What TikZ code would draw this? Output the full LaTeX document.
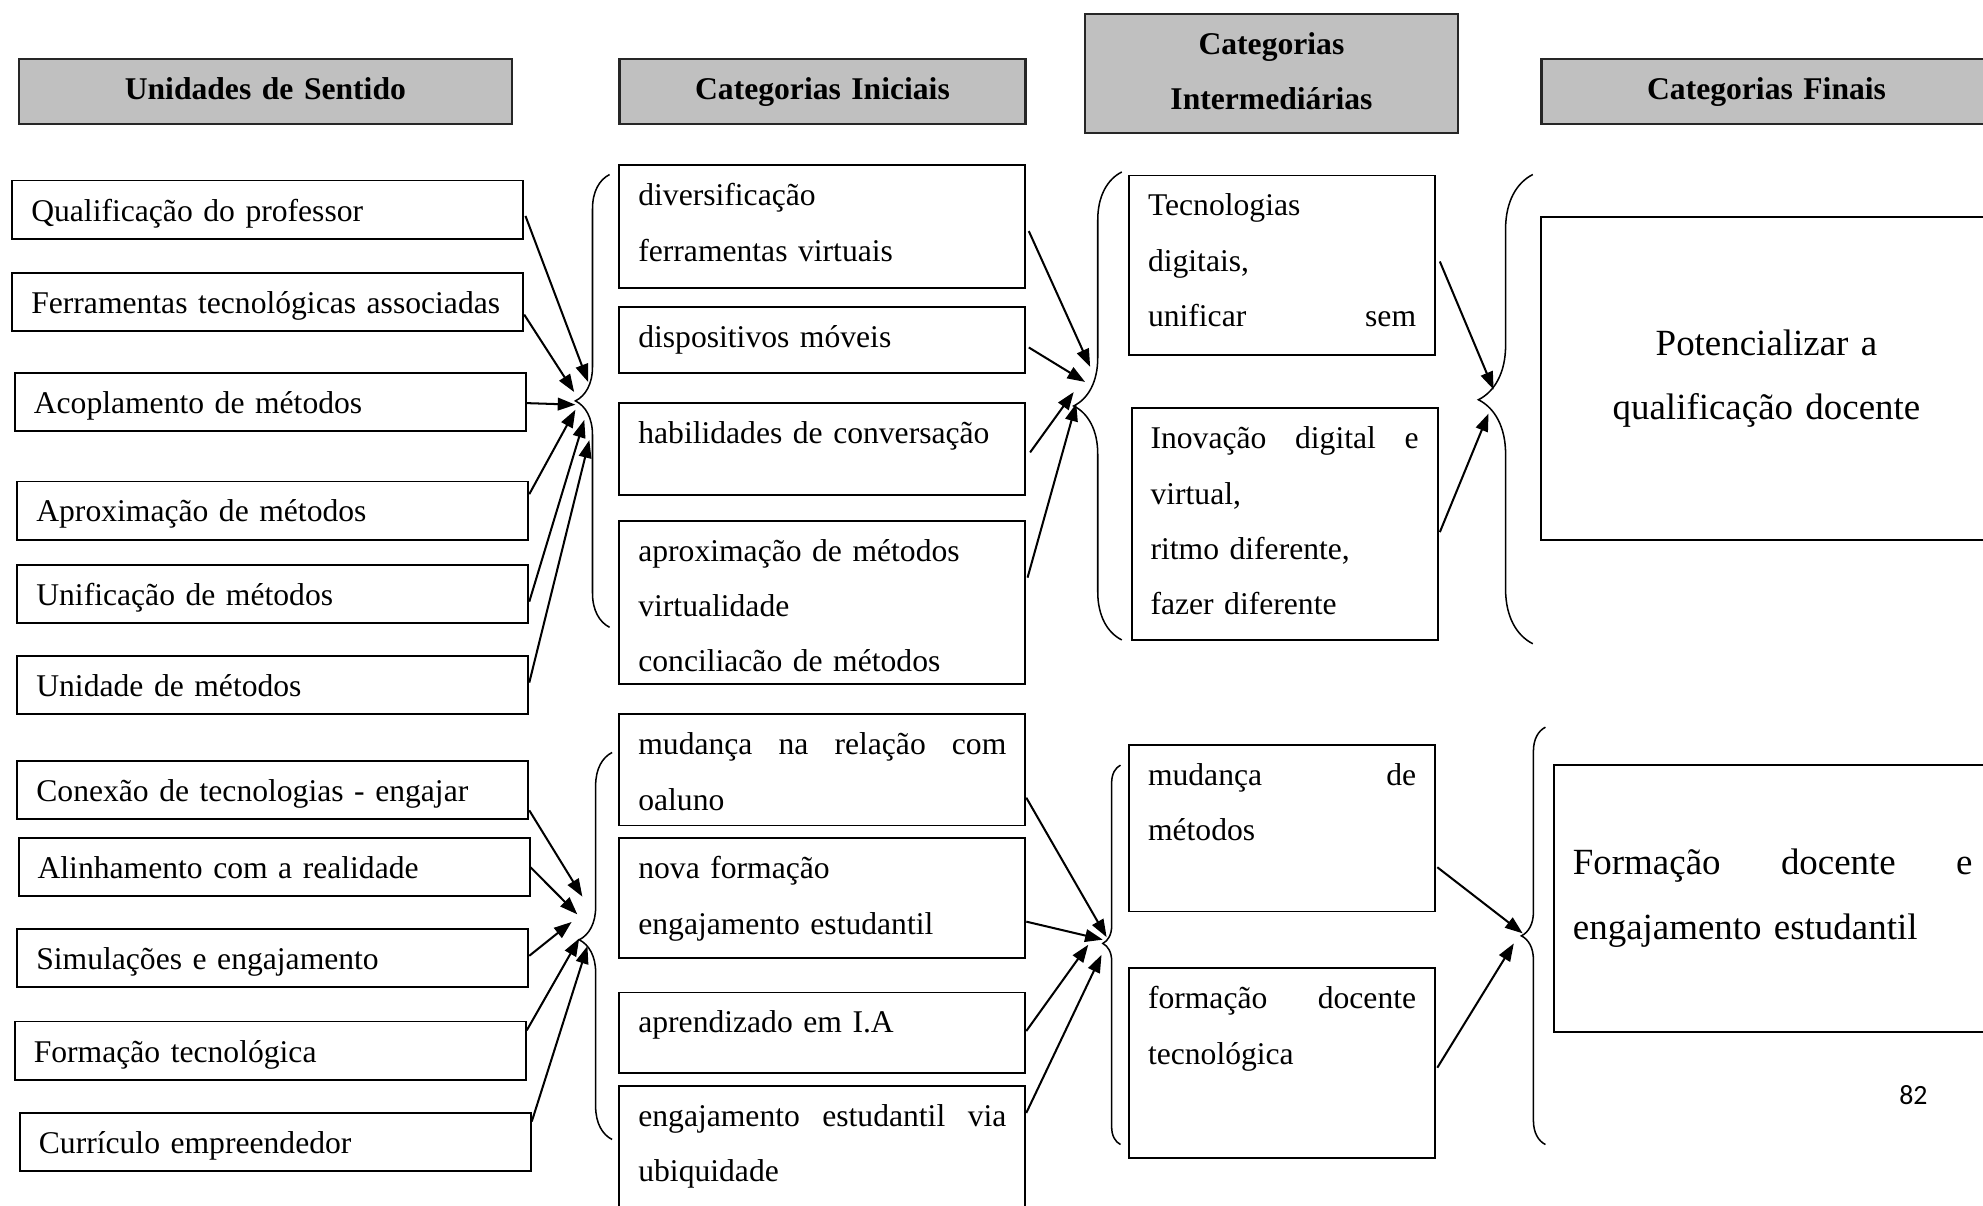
\documentclass[tikz,border=0pt]{standalone}
\usepackage{fontspec}
\setmainfont{Liberation Serif}
\newfontfamily\pagefont{Carlito}
\usepackage{tikz}
\usetikzlibrary{arrows.meta}
\usetikzlibrary{decorations.pathreplacing}

\definecolor{headgray}{RGB}{192,192,192}
\newcommand{\bodytxt}{\fontsize{25pt}{43.8pt}\selectfont}
\newcommand{\finaltxt}{\fontsize{29.2pt}{51pt}\selectfont}

\tikzset{
  cell/.style={draw, line width=1.5pt, anchor=north west, inner xsep=15pt,
    inner ysep=0pt, text height=32pt, align=left, font=\bodytxt},
  head/.style={cell, draw=black!85, line width=1.7pt, fill=headgray, align=center,
    font=\bodytxt\bfseries},
  unid/.style={cell, text width=374pt, text depth=14pt},
  ini/.style={cell, text width=291pt, text depth=#1},
  inter/.style={cell, text width=212pt, text depth=#1},
  conn/.style={line width=1.6pt, -{Triangle[length=14pt,width=10pt]}},
  chave/.style 2 args={line width=1.2pt, decorate,
    decoration={brace, amplitude=#1, aspect=#2}}
}

\begin{document}
\begin{tikzpicture}[x=1pt, y=-1pt]
\useasboundingbox (0,0) rectangle (1568,953);

\node[head, text width=360pt, text depth=19pt] (hd1) at (14,46) {Unidades de Sentido};
\node[head, text width=291pt, text depth=19pt] (hd2) at (489,46) {Categorias Iniciais};
\node[head, text width=265pt, text depth=62pt] (hd3) at (857,10) {Categorias\\Intermediárias};
\node[head, text width=326pt, text depth=19pt] (hd4) at (1218,46) {Categorias Finais};

\node[unid] (un1) at (9,142) {Qualificação do professor};
\node[unid] (un2) at (9,215) {Ferramentas tecnológicas associadas};
\node[unid] (un3) at (11,294) {Acoplamento de métodos};
\node[unid] (un4) at (13,380) {Aproximação de métodos};
\node[unid] (un5) at (13,446) {Unificação de métodos};
\node[unid] (un6) at (13,518) {Unidade de métodos};
\node[unid] (un7) at (13,601) {Conexão de tecnologias - engajar};
\node[unid] (un8) at (14,662) {Alinhamento com a realidade};
\node[unid] (un9) at (13,734) {Simulações e engajamento};
\node[unid] (un10) at (11,807) {Formação tecnológica};
\node[unid] (un11) at (15,879) {Currículo empreendedor};

\node[ini=65pt] (ini1) at (489,130) {diversificação\\ferramentas virtuais};
\node[ini=20pt] (ini2) at (489,242) {dispositivos móveis};
\node[ini=41pt] (ini3) at (489,318) {habilidades de conversação};
\node[ini=97pt] (ini4) at (489,411) {aproximação de métodos\\virtualidade\\conciliacão de métodos};
\node[ini=56pt] (ini5) at (489,564) {mudança\hfill na\hfill relação\hfill com\\oaluno};
\node[ini=63pt] (ini6) at (489,662) {nova formação\\engajamento estudantil};
\node[ini=32pt] (ini7) at (489,784) {aprendizado em I.A};
\node[ini=70pt] (ini8) at (489,858) {engajamento\hfill estudantil\hfill via\\ubiquidade};

\node[inter=110pt] (int1) at (892,138) {Tecnologias\\digitais,\\unificar\hfill sem};
\node[inter=151pt] (int2) at (894,322) {Inovação\hfill digital\hfill e\\virtual,\\ritmo diferente,\\fazer diferente};
\node[inter=100pt] (int3) at (892,588) {mudança\hfill de\\métodos};
\node[inter=118pt] (int4) at (892,765) {formação\hfill docente\\tecnológica};

\node[cell, align=center, font=\finaltxt, text width=326pt, text height=109pt,
  text depth=146pt] (fin1) at (1218,171) {Potencializar a\\qualificação docente};
\node[cell, font=\finaltxt, text width=316pt, text height=87pt,
  text depth=124pt] (fin2) at (1228,604) {Formação\hfill docente\hfill e\\engajamento estudantil};

\node[font=\pagefont\fontsize{22pt}{26pt}\selectfont] (pag) at (1513,866) {82};

\draw[chave={27pt}{0.5}] (482,496) -- (482,138);
\draw[chave={26pt}{0.516}] (484,901) -- (484,595);
\draw[chave={38pt}{0.5}] (887,506) -- (887,136);
\draw[chave={14pt}{0.53}] (886,905) -- (886,605);
\draw[chave={43pt}{0.52}] (1212,509) -- (1212,138);
\draw[chave={19pt}{0.5}] (1222,905) -- (1222,575);

\coordinate (tip1) at (455,317);
\coordinate (tip2) at (458,743);
\coordinate (tip3) at (849,321);
\coordinate (tip4) at (872,746);
\coordinate (tip5) at (1169,316);
\coordinate (tip6) at (1203,740);

\draw[conn] ([shift={(1,5)}]un1.east) -- ([shift={(10,-15)}]tip1);
\draw[conn] ([shift={(0,10)}]un2.east) -- ([shift={(-1,-7)}]tip1);
\draw[conn] ([shift={(0,1)}]un3.east) -- ([shift={(0,3)}]tip1);
\draw[conn] ([shift={(0,-13)}]un4.east) -- ([shift={(0,7)}]tip1);
\draw[conn] ([shift={(0,6)}]un5.east) -- ([shift={(7,15)}]tip1);
\draw[conn] ([shift={(0,-2)}]un6.east) -- ([shift={(11,31)}]tip1);

\draw[conn] ([shift={(0,16)}]un7.east) -- ([shift={(2.5,-34)}]tip2);
\draw[conn] ([shift={(0,0)}]un8.east) -- ([shift={(-1.5,-20)}]tip2);
\draw[conn] ([shift={(0,-2)}]un9.east) -- ([shift={(-6,-14)}]tip2);
\draw[conn] ([shift={(0,-16)}]un10.east) -- ([shift={(0,-1)}]tip2);
\draw[conn] ([shift={(0,-16)}]un11.east) -- ([shift={(6.5,5)}]tip2);

\draw[conn] ([shift={(2,3.5)}]ini1.east) -- ([shift={(13,-31)}]tip3);
\draw[conn] ([shift={(2,6)}]ini2.east) -- ([shift={(9,-19)}]tip3);
\draw[conn] ([shift={(3,2.5)}]ini3.east) -- ([shift={(0,-11)}]tip3);
\draw[conn] ([shift={(1,-19.5)}]ini4.east) -- ([shift={(2,-2)}]tip3);

\draw[conn] ([shift={(0,22)}]ini5.east) -- ([shift={(3,-5)}]tip4);
\draw[conn] ([shift={(0,18.5)}]ini6.east) -- ([shift={(0,-3)}]tip4);
\draw[conn] ([shift={(0,-1.5)}]ini7.east) -- ([shift={(-11.5,1)}]tip4);
\draw[conn] ([shift={(0,22)}]ini8.north east) -- ([shift={(-1,9)}]tip4);

\draw[conn] ([shift={(3,-3)}]int1.east) -- ([shift={(12,-8)}]tip5);
\draw[conn] ([shift={(1,6.5)}]int2.east) -- ([shift={(8,11)}]tip5);

\draw[conn] ([shift={(1,31)}]int3.east) -- ([shift={(1,-2)}]tip6);
\draw[conn] ([shift={(1,3.5)}]int4.east) -- ([shift={(-6,6)}]tip6);
\end{tikzpicture}
\end{document}
